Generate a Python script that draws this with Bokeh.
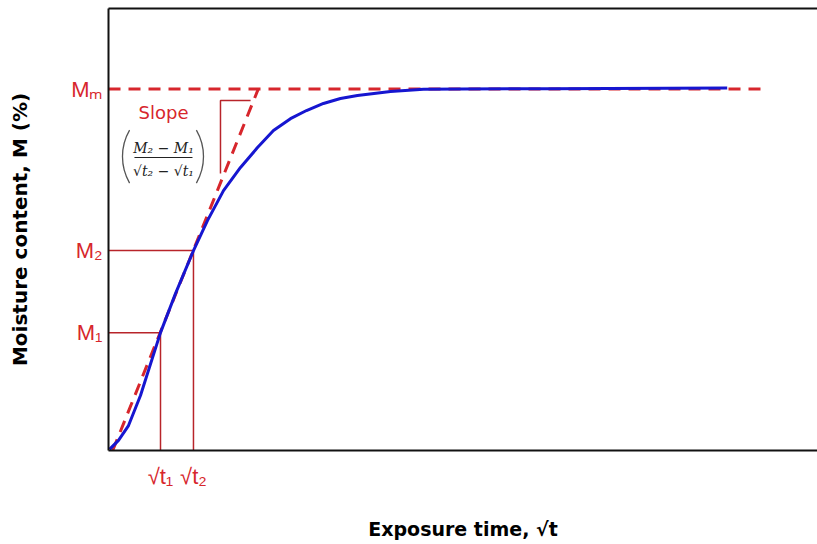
import math
from bokeh.plotting import figure
from bokeh.models import Range1d, Label, LinearAxis, FixedTicker
from bokeh.embed import file_html
from bokeh.resources import INLINE

# ---- data ----
sqrt_t = [0.014, 0.143, 0.286, 0.457, 0.743, 0.957, 1.214, 1.414, 1.643, 1.886,
          2.129, 2.357, 2.600, 2.829, 3.071, 3.314, 3.557, 4.029, 4.500, 5.030,
          6.310, 8.840]
moisture = [0.003, 0.028, 0.069, 0.152, 0.326, 0.434, 0.553, 0.636, 0.719, 0.783,
            0.838, 0.885, 0.918, 0.9405, 0.960, 0.9737, 0.982, 0.993, 0.999, 1.000,
            1.001, 1.003]

M_m = 1.0
M_1 = 0.326
M_2 = 0.553
sqrt_t1 = 0.743
sqrt_t2 = 1.214

y_ticks = [M_1, M_2, M_m]
y_tick_labels = ["M\u2081", "M\u2082", "M\u2098"]
x_ticks = [sqrt_t1, sqrt_t2]
x_tick_labels = ["\u221at\u2081", "\u221at\u2082"]

slope_x = [0.06, 2.14]
slope_y = [0.0, 1.0]
mm_x = [0.0, 9.43]

bracket_x = [1.6, 1.6, 2.03]
bracket_y = [0.766, 0.968, 0.968]

RED = "#d7262c"
DARKRED = "#b8242a"
BLUE = "#1616d0"

p = figure(frame_width=709, frame_height=442,
           x_range=Range1d(0, 10.13), y_range=Range1d(0, 1.2227),
           output_backend="svg", toolbar_location=None,
           min_border_left=108, min_border_right=0,
           min_border_top=8, min_border_bottom=93)
p.grid.visible = False
p.outline_line_color = None
p.background_fill_color = "white"
p.border_fill_color = "white"

def style_axis(ax):
    ax.major_tick_line_color = None
    ax.minor_tick_line_color = None
    ax.major_tick_out = 0
    ax.major_tick_in = 0
    ax.axis_line_width = 2
    ax.axis_line_color = "#111111"

top_axis = LinearAxis(ticker=FixedTicker(ticks=[]))
top_axis.major_label_text_alpha = 0
top_axis.major_label_standoff = 0
p.add_layout(top_axis, "above")

xa = p.below[0]
ya = p.left[0]
for ax in [xa, ya, top_axis]:
    style_axis(ax)

xa.ticker = FixedTicker(ticks=x_ticks)
xa.major_label_overrides = {t: s for t, s in zip(x_ticks, x_tick_labels)}
xa.major_label_text_font = "Liberation Sans"
xa.major_label_text_font_size = "22px"
xa.major_label_text_color = RED
xa.major_label_standoff = 13
xa.axis_label = "Exposure time, \u221at"
xa.axis_label_text_font = "DejaVu Sans"
xa.axis_label_text_font_style = "bold"
xa.axis_label_text_font_size = "19px"
xa.axis_label_text_color = "#000000"
xa.axis_label_standoff = 26

ya.ticker = FixedTicker(ticks=y_ticks)
ya.major_label_overrides = {t: s for t, s in zip(y_ticks, y_tick_labels)}
ya.major_label_text_font = "Liberation Sans"
ya.major_label_text_font_size = "22px"
ya.major_label_text_color = RED
ya.major_label_standoff = 6
ya.axis_label = "Moisture content, M (%)"
ya.axis_label_text_font = "DejaVu Sans"
ya.axis_label_text_font_style = "bold"
ya.axis_label_text_font_size = "20px"
ya.axis_label_text_color = "#000000"
ya.axis_label_standoff = 36

# guide lines for M1 and M2
p.line([0, sqrt_t1, sqrt_t1], [M_1, M_1, 0], line_color=DARKRED, line_width=1.5)
p.line([0, sqrt_t2, sqrt_t2], [M_2, M_2, 0], line_color=DARKRED, line_width=1.5)
# slope bracket
p.line(bracket_x, bracket_y, line_color=DARKRED, line_width=1.5)

# dashed lines
p.line(mm_x, [M_m, M_m], line_color=RED, line_width=3, line_dash="12 8")
p.line(slope_x, slope_y, line_color=RED, line_width=3, line_dash="12 8")

# sorption curve
p.line(sqrt_t, moisture, line_color=BLUE, line_width=3)

# formula parentheses
p.arc(x=[0.957], y=[0.813], radius=53, radius_units="screen",
      start_angle=math.radians(150), end_angle=math.radians(210),
      line_color="#555555", line_width=1.3)
p.arc(x=[0.60], y=[0.813], radius=53, radius_units="screen",
      start_angle=math.radians(-30), end_angle=math.radians(30),
      line_color="#555555", line_width=1.3)
# fraction bar
p.line([0.371, 1.2], [0.8105, 0.8105], line_color="#222222", line_width=1)

def lab(x, y, text, size, color=RED, font="Liberation Sans", align="left",
        baseline="alphabetic", style="normal"):
    p.add_layout(Label(x=x, y=y, text=text, text_font=font,
                       text_font_size=f"{size}px", text_color=color,
                       text_align=align, text_baseline=baseline,
                       text_font_style=style))

# slope text and formula
lab(0.786, 0.935, "Slope", 18, font="DejaVu Sans", align="center")
lab(0.786, 0.836, "M\u2082 \u2212 M\u2081", 14, color="#222222",
    font="DejaVu Serif", align="center", style="italic")
lab(0.786, 0.774, "\u221at\u2082 \u2212 \u221at\u2081", 14, color="#222222",
    font="DejaVu Serif", align="center", style="italic")

open("out.html", "w").write(file_html(p, INLINE))
